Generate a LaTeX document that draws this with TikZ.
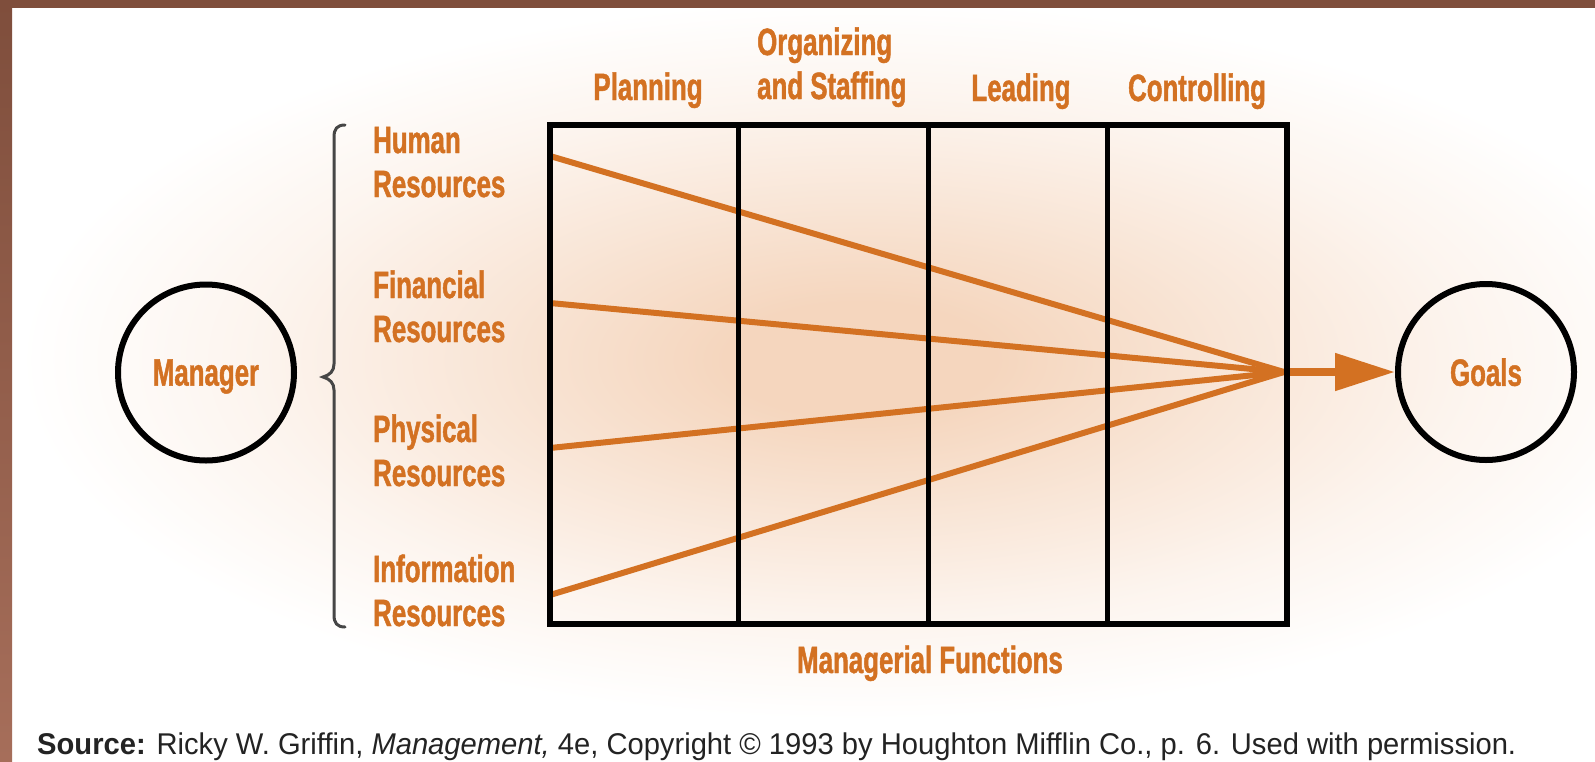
\documentclass[tikz,border=0pt]{standalone}
\usepackage{graphicx}
\usepackage{fontspec}
\setmainfont{Liberation Sans}
\newfontfamily\condfont{Liberation Sans}[FakeStretch=0.68, FakeBold=1.2]
\usetikzlibrary{arrows.meta}
\definecolor{rust}{RGB}{211,113,34}
\definecolor{peach}{RGB}{245,214,190}
\definecolor{frametop}{RGB}{127,78,60}
\definecolor{framebot}{RGB}{166,110,90}
\definecolor{bracegray}{RGB}{70,70,70}
\definecolor{srcgray}{RGB}{35,35,35}
\pgfdeclareradialshading{glow}{\pgfpoint{0bp}{0bp}}{%
  color(0bp)=(peach); color(4bp)=(peach); color(11bp)=(peach!62!white);
  color(18bp)=(peach!26!white); color(25bp)=(white); color(50bp)=(white)}
\begin{document}
\begin{tikzpicture}[x=1pt,y=-1pt,
  lbl/.style={font=\condfont\bfseries\fontsize{38}{44}\selectfont, text=rust, inner sep=0pt, align=left},
  ring/.style={circle, draw=black, line width=6pt, minimum size=176pt, inner sep=0pt,
    font=\condfont\bfseries\fontsize{38}{44}\selectfont, text=rust, text depth=0pt},
  feed/.style={draw=rust, line width=6pt},
  gridbox/.style={draw=black, line width=6pt},
  divider/.style={draw=black, line width=5pt}]
\useasboundingbox (0,0) rectangle (1595,761);
\fill[white] (0,0) rectangle (1595,761);
\shade[shading=glow] (860,360) ellipse [x radius=840, y radius=360];
\fill[frametop] (0,0) rectangle (1595,8);
\shade[top color=frametop, bottom color=framebot] (0,0) rectangle (12,761);

% circles
\node[ring] (mgr) at (206,372.5) {Manager};
\node[ring] (goals) at (1486,372) {Goals};

% brace
\draw[bracegray, line width=3pt, line cap=round]
  (345,125) .. controls (337,125) and (334,129) .. (334,137) -- (334,364)
  .. controls (334,371) and (330,375) .. (323,377)
  .. controls (330,379) and (334,383) .. (334,390) -- (334,615)
  .. controls (334,623) and (337,627) .. (345,627);

% resource labels (anchor = baseline of the last line)
\node[lbl, anchor=base west] (hr) at (373,197) {Human\\Resources};
\node[lbl, anchor=base west] (fr) at (373,342) {Financial\\Resources};
\node[lbl, anchor=base west] (pr) at (373,486) {Physical\\Resources};
\node[lbl, anchor=base west] (ir) at (373,626) {Information\\Resources};

% function labels
\node[lbl, anchor=base] (plan) at (648,100) {Planning};
\node[lbl, anchor=base west] (org) at (757,99) {Organizing\\and Staffing};
\node[lbl, anchor=base] (lead) at (1021,101) {Leading};
\node[lbl, anchor=base] (ctrl) at (1197,101) {Controlling};
\node[lbl, anchor=base] (mf) at (930,673) {Managerial Functions};

% feeds
\coordinate (hrin) at (550,156);
\coordinate (frin) at (550,303);
\coordinate (prin) at (550,448);
\coordinate (irin) at (550,595);
\coordinate (conv) at (1284,372);
\foreach \c in {hrin,frin,prin,irin} \draw[feed] (\c) -- (conv);
\draw[rust, line width=8pt, -{Triangle[length=60pt,width=36pt]}] (conv) -- (goals);

% grid
\draw[gridbox] (550,124.5) rectangle (1287,623.5);
\foreach \x in {738,928,1107} \draw[divider] (\x,124.5) -- (\x,623.5);

% source line
\node[anchor=base west, inner sep=0pt, text=srcgray, font=\fontsize{30}{34}\selectfont] (src) at (37,754)
  {\resizebox{1479pt}{\height}{\textbf{Source:} Ricky W. Griffin, \textit{Management,} 4e, Copyright © 1993 by Houghton Mifflin Co., p. 6. Used with permission.}};
\end{tikzpicture}
\end{document}
